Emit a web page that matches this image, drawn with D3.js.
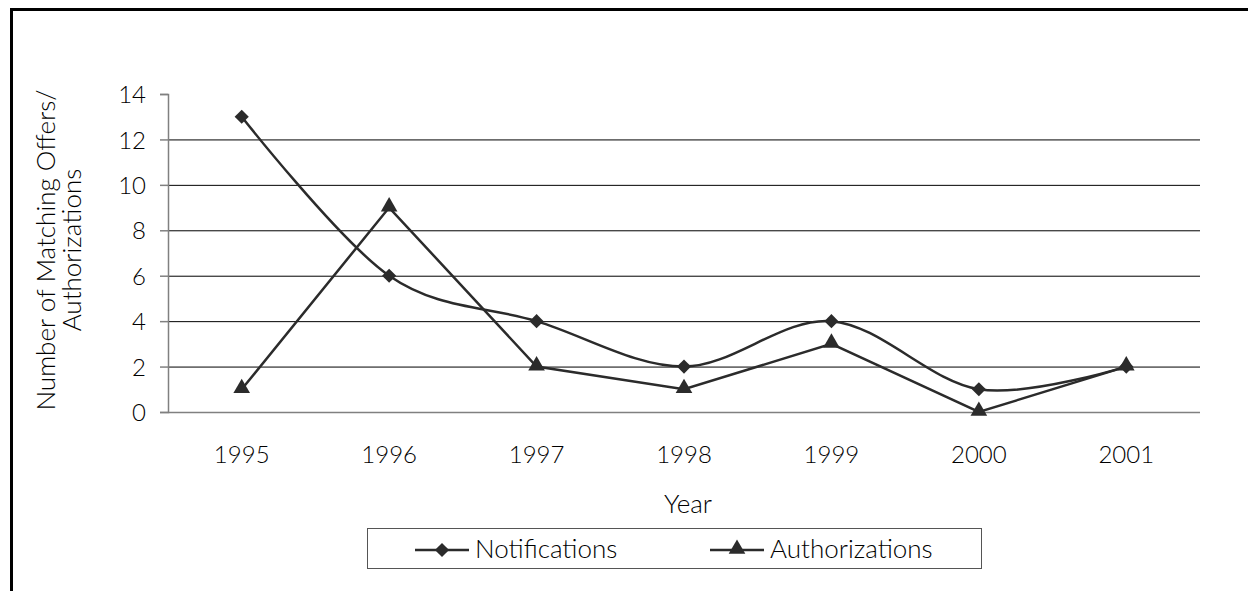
<!DOCTYPE html>
<html>
<head>
<meta charset="utf-8">
<script src="https://cdn.jsdelivr.net/npm/d3@7"></script>
<style>
  body { margin: 0; background: #fff; }
  svg { display: block; }
  text { font-family: Lato, "Open Sans", sans-serif; font-weight: 300; fill: #000; }
</style>
</head>
<body>
<svg id="chart" width="1248" height="591"></svg>
<script>
// chart data
var years = ["1995", "1996", "1997", "1998", "1999", "2000", "2001"];
var notifications = [13, 6, 4, 2, 4, 1, 2];
var authorizations = [1, 9, 2, 1, 3, 0, 2];
var yTicks = [0, 2, 4, 6, 8, 10, 12, 14];

var svg = d3.select('#chart');

// outer frame (runs off the right and bottom edge)
svg.append('rect')
  .attr('x', 11.5).attr('y', 9.5)
  .attr('width', 1260).attr('height', 600)
  .style('fill', 'none').style('stroke', '#000').style('stroke-width', 3);

var plot = {left: 168, right: 1200, top: 94, bottom: 412};

var xScale = d3.scaleBand().domain(years).range([plot.left, plot.right]);
var yScale = d3.scaleLinear().domain([0, 14]).range([plot.bottom, plot.top]);
var xc = function(d, i) { return xScale(years[i]) + xScale.bandwidth() / 2; };

// gridlines
svg.append('g')
  .selectAll('line')
  .data(yTicks.filter(function(t) { return t > 0 && t < 14; }))
  .enter().append('line')
  .attr('x1', plot.left).attr('x2', plot.right)
  .attr('y1', function(d) { return yScale(d) + 0.5; })
  .attr('y2', function(d) { return yScale(d) + 0.5; })
  .style('stroke', '#000').style('stroke-width', 1);

// y axis
var yAxis = d3.axisLeft(yScale).tickValues(yTicks).tickSize(8).tickPadding(14);
var gy = svg.append('g')
  .attr('transform', 'translate(' + plot.left + ',0)')
  .call(yAxis);
gy.select('.domain').style('stroke', '#808080').style('stroke-width', 1.5);
gy.selectAll('.tick line').style('stroke', '#808080').style('stroke-width', 1.5);
gy.selectAll('.tick text').style('font-size', '24px').style('font-family', 'Lato, sans-serif').attr('dy', '0.36em');

// x axis
var xAxis = d3.axisBottom(xScale).tickSize(0).tickPadding(34);
var gx = svg.append('g')
  .attr('transform', 'translate(0,' + plot.bottom + ')')
  .call(xAxis);
gx.select('.domain').attr('d', 'M' + plot.left + ',0.5H' + plot.right)
  .style('stroke', '#808080').style('stroke-width', 1.5);
gx.selectAll('.tick text').style('font-size', '24px').style('font-family', 'Lato, sans-serif');

// axis titles
svg.append('text')
  .attr('x', 688).attr('y', 513)
  .attr('text-anchor', 'middle')
  .style('font-size', '26px')
  .text('Year');

var yTitle = svg.append('text')
  .attr('transform', 'translate(55,250) rotate(-90)')
  .attr('text-anchor', 'middle')
  .style('font-size', '26px');
yTitle.append('tspan').attr('x', 0).attr('dy', 0).text('Number of Matching Offers/');
yTitle.append('tspan').attr('x', 0).attr('dy', 26).text('Authorizations');

// lines
var lineColor = '#2b2b2b';
var smoothLine = d3.line()
  .curve(d3.curveCatmullRom.alpha(0))
  .x(xc)
  .y(function(d) { return yScale(d); });
var straightLine = d3.line()
  .x(xc)
  .y(function(d) { return yScale(d); });

svg.append('path')
  .datum(notifications)
  .attr('d', smoothLine)
  .style('fill', 'none').style('stroke', lineColor).style('stroke-width', 2.5);

svg.append('path')
  .datum(authorizations)
  .attr('d', straightLine)
  .style('fill', 'none').style('stroke', lineColor).style('stroke-width', 2.5);

var diamond = d3.symbol().type(d3.symbolSquare).size(100);
var triangle = d3.symbol().type(d3.symbolTriangle).size(120);

svg.append('g').selectAll('path')
  .data(notifications)
  .enter().append('path')
  .attr('d', diamond)
  .attr('transform', function(d, i) { return 'translate(' + xc(d, i) + ',' + yScale(d) + ') rotate(45)'; })
  .style('fill', lineColor);

svg.append('g').selectAll('path')
  .data(authorizations)
  .enter().append('path')
  .attr('d', triangle)
  .attr('transform', function(d, i) { return 'translate(' + xc(d, i) + ',' + (yScale(d) - 1) + ')'; })
  .style('fill', lineColor);

// legend
var legend = svg.append('g');
legend.append('rect')
  .attr('x', 367.5).attr('y', 528.5)
  .attr('width', 614).attr('height', 40)
  .style('fill', '#fff').style('stroke', '#555').style('stroke-width', 1);

var legendItems = [
  {name: 'Notifications', x: 415, sym: diamond, rot: 45},
  {name: 'Authorizations', x: 710, sym: triangle, rot: 0}
];
legendItems.forEach(function(it) {
  legend.append('line')
    .attr('x1', it.x).attr('x2', it.x + 54)
    .attr('y1', 550).attr('y2', 550)
    .style('stroke', lineColor).style('stroke-width', 2.5);
  legend.append('path')
    .attr('d', it.sym)
    .attr('transform', 'translate(' + (it.x + 27) + ',' + (it.rot ? 550 : 549) + ') rotate(' + it.rot + ')')
    .style('fill', lineColor);
  legend.append('text')
    .attr('x', it.x + 60).attr('y', 558)
    .style('font-size', '26px')
    .text(it.name);
});
</script>
</body>
</html>
